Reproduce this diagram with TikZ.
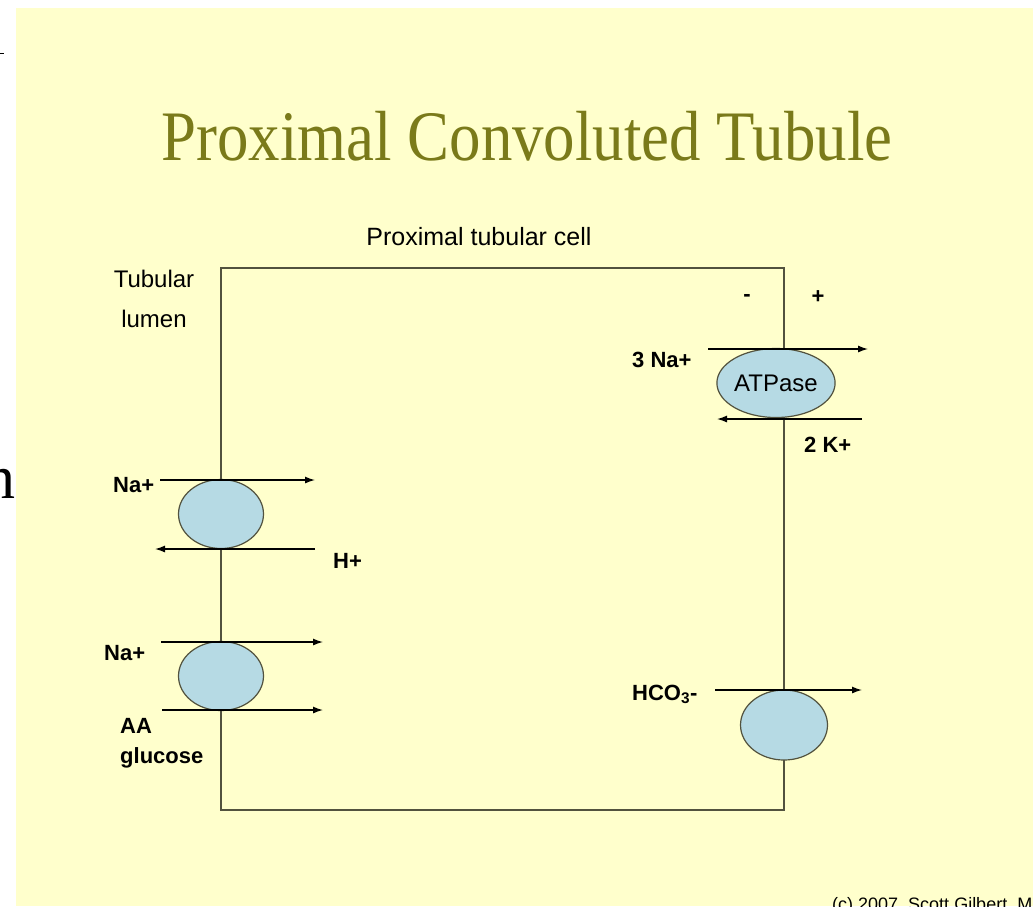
\documentclass[tikz,border=0pt]{standalone}
\usepackage{fontspec}
\setmainfont{Liberation Sans}
\newfontfamily\titlefont[FakeStretch=0.885]{Liberation Serif}
\newfontfamily\seriffont{Liberation Serif}
\usetikzlibrary{shapes.geometric, arrows.meta}
\definecolor{slideyellow}{RGB}{255,255,204}
\definecolor{titleolive}{RGB}{122,122,26}
\definecolor{membrane}{RGB}{82,82,62}
\definecolor{carrierblue}{RGB}{182,218,228}

\begin{document}
\begin{tikzpicture}[x=1pt, y=-1pt,
    carrier/.style  = {ellipse, draw=membrane, line width=1.2pt, fill=carrierblue,
                       minimum width=85pt, minimum height=69pt, inner sep=0pt},
    ion/.style      = {font=\fontsize{22}{24}\selectfont\bfseries, inner sep=0pt},
    plain/.style    = {font=\fontsize{24}{26}\selectfont, inner sep=0pt},
    flux/.style     = {draw=black, line width=1.3pt, -{Latex[length=10pt,width=7pt]}}
    ]
      \useasboundingbox (0,0) rectangle (1033,906);
      \fill[white] (0,0) rectangle (1033,906);
      \fill[slideyellow] (16,8) rectangle (1033,906);
      \draw[line width=1pt] (0,53) -- (4,53);
      \node[anchor=base east, inner sep=0pt, font=\seriffont\fontsize{62}{62}\selectfont] (cut) at (16,498) {n};

      % titles ---------------------------------------------------
      \node[anchor=base, inner sep=0pt, text=titleolive,
            font=\titlefont\fontsize{71}{71}\selectfont] (title) at (527,160) {Proximal Convoluted Tubule};
      \node[plain, anchor=base, font=\fontsize{25}{27}\selectfont] (cell) at (479,245) {Proximal tubular cell};
      \node[plain, anchor=base] (lum1) at (154,287) {Tubular};
      \node[plain, anchor=base] (lum2) at (154,327) {lumen};

      % cell membranes -------------------------------------------
      \draw[membrane, line width=1.5pt] (221,268) rectangle (784,810);

      % carriers -------------------------------------------------
      \node[carrier] (nhe)  at (221,514) {};
      \node[carrier] (sglt) at (221,676) {};
      \node[carrier, font=\fontsize{24}{26}\selectfont] (atp) at (776,383) {ATPase};
      \node[carrier, minimum width=87pt, minimum height=70pt] (bic) at (784,725) {};

      % arrow ends -----------------------------------------------
      \coordinate (na1a) at (160,480);  \coordinate (na1b) at (315,480);
      \coordinate (h1a)  at (315,549);  \coordinate (h1b)  at (155,549);
      \coordinate (na2a) at (161,642);  \coordinate (na2b) at (323,642);
      \coordinate (aaa)  at (162,710);  \coordinate (aab)  at (323,710);
      \coordinate (na3a) at (708,349);  \coordinate (na3b) at (868,349);
      \coordinate (k2a)  at (862,419);  \coordinate (k2b)  at (717,419);
      \coordinate (hcoa) at (715,690);  \coordinate (hcob) at (862,690);

      % fluxes ---------------------------------------------------
      \draw[flux] (na1a) -- (na1b);
      \draw[flux] (h1a)  -- (h1b);
      \draw[flux] (na2a) -- (na2b);
      \draw[flux] (aaa)  -- (aab);
      \draw[flux] (na3a) -- (na3b);
      \draw[flux] (k2a)  -- (k2b);
      \draw[flux] (hcoa) -- (hcob);

      % ion labels -----------------------------------------------
      \node[ion, anchor=base west] (lna1) at (113,492) {Na+};
      \node[ion, anchor=base west] (lh1)  at (333,568) {H+};
      \node[ion, anchor=base west] (lna2) at (104,660) {Na+};
      \node[ion, anchor=base west] (laa)  at (120,733) {AA};
      \node[ion, anchor=base west] (lglc) at (120,763) {glucose};
      \node[ion, anchor=base west] (lna3) at (632,367) {3 Na+};
      \node[ion, anchor=base west] (lk2)  at (804,452) {2 K+};
      \node[ion, anchor=base west] (lhco) at (632,700) {HCO\textsubscript{3}-};
      \node[ion] (minus) at (747,298) {-};
      \node[ion] (plus)  at (818,297) {+};

      % footer ---------------------------------------------------
      \node[anchor=base west, inner sep=0pt, font=\fontsize{18}{20}\selectfont] (credit) at (832,910) {(c) 2007\ \ Scott Gilbert, MD};
\end{tikzpicture}
\end{document}
